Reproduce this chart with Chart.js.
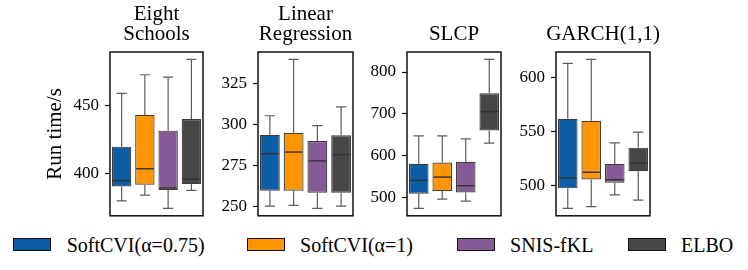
<!DOCTYPE html>
<html><head><meta charset="utf-8">
<script src="https://cdn.jsdelivr.net/npm/chart.js@4.4.1/dist/chart.umd.min.js"></script>
<style>
html,body{margin:0;padding:0;background:#fff;}
#wrap{position:relative;width:748px;height:270px;overflow:hidden;font-family:'Liberation Serif',serif;}
canvas{position:absolute;top:0;}
.sw{position:absolute;top:237.5px;width:38px;height:13.5px;box-sizing:border-box;border:1.5px solid #111;}
.lt{position:absolute;top:235px;font-family:'Liberation Serif',serif;font-size:20px;line-height:20px;color:#000;white-space:nowrap;}
</style></head><body><div id="wrap"></div>
<script>
// ---------------- data ----------------
const seriesNames = ['SoftCVI(\u03B1=0.75)', 'SoftCVI(\u03B1=1)', 'SNIS-fKL', 'ELBO'];
const seriesColors = ['#0C5DA5', '#FF9500', '#845B97', '#474747'];
const panelTitles = [['Eight', 'Schools'], ['Linear', 'Regression'], 'SLCP', 'GARCH(1,1)'];
const yAxisLabel = 'Run time/s';
// five-number summaries per series: [lower whisker, Q1, median, Q3, upper whisker]
const eightSchools     = [[380.0, 390.7, 395.0, 420.0, 459.3], [384.3, 391.9, 403.7, 443.4, 473.0], [374.5, 388.0, 389.5, 431.8, 471.3], [387.7, 392.4, 396.0, 440.4, 484.3]];
const linearRegression = [[250.0, 259.4, 282.0, 293.6, 305.2], [250.4, 259.4, 283.0, 294.8, 339.6], [248.6, 258.1, 277.6, 289.8, 299.2], [250.0, 258.1, 281.4, 293.2, 310.6]];
const slcp             = [[474.6, 509.5, 541.3, 581.0, 647.6], [496.8, 515.9, 549.2, 584.0, 647.6], [492.0, 512.7, 528.6, 585.7, 640.5], [630.2, 660.3, 705.5, 749.3, 830.0]];
const garch            = [[478.4, 497.0, 506.8, 561.8, 613.3], [480.0, 505.3, 512.0, 559.9, 617.0], [491.0, 502.2, 505.0, 519.8, 539.3], [486.1, 513.0, 520.7, 534.9, 549.4]];
const ticksEightSchools = [400, 450];
const ticksLinearRegression = [250, 275, 300, 325];
const ticksSlcp = [500, 600, 700, 800];
const ticksGarch = [500, 550, 600];

// ---------------- layout (styles only) ----------------
const panelStats = [eightSchools, linearRegression, slcp, garch];
const panelTicks = [ticksEightSchools, ticksLinearRegression, ticksSlcp, ticksGarch];
const panelLeft = [110, 258, 407, 555.5];
const panelWidth = [93, 95, 94, 94];
const legendLeft = [13.3, 246.7, 456.7, 627.7];
const FONT = "'Liberation Serif', serif";

const wrap = document.getElementById('wrap');

const boxWhiskers = {
  id: 'boxWhiskers',
  afterDatasetsDraw(chart, args, opts) {
    const ctx = chart.ctx, ys = chart.scales.y;
    const meta = chart.getDatasetMeta(0);
    const p = v => ys.getPixelForValue(v);
    ctx.save();
    meta.data.forEach((bar, i) => {
      const [lo, q1, med, q3, hi] = opts.stats[i];
      const x = bar.x, hw = bar.width / 2, cw = hw * 0.52;
      ctx.strokeStyle = '#5c5c5c'; ctx.lineWidth = 1.2;
      ctx.beginPath();
      ctx.moveTo(x, p(q3)); ctx.lineTo(x, p(hi));
      ctx.moveTo(x - cw, p(hi)); ctx.lineTo(x + cw, p(hi));
      ctx.moveTo(x, p(q1)); ctx.lineTo(x, p(lo));
      ctx.moveTo(x - cw, p(lo)); ctx.lineTo(x + cw, p(lo));
      ctx.stroke();
      ctx.strokeStyle = '#333333'; ctx.lineWidth = 1.4;
      ctx.beginPath();
      ctx.moveTo(x - hw + 1, p(med)); ctx.lineTo(x + hw - 1, p(med));
      ctx.stroke();
    });
    ctx.restore();
  }
};
const frame = {
  id: 'frame',
  afterDraw(chart) {
    const a = chart.chartArea, ctx = chart.ctx;
    ctx.save();
    ctx.strokeStyle = '#111'; ctx.lineWidth = 1.5;
    ctx.strokeRect(a.left, a.top, a.right - a.left, a.bottom - a.top);
    ctx.restore();
  }
};

panelStats.forEach((stats, k) => {
  const axisW = k === 0 ? 110 : 50;
  const cv = document.createElement('canvas');
  // canvas symmetric around the panel so the full-width title is centred over it
  const W = axisW + panelWidth[k] + axisW, H = 232;
  cv.width = W; cv.height = H;
  cv.style.left = (panelLeft[k] - axisW) + 'px';
  cv.style.width = W + 'px'; cv.style.height = H + 'px';
  wrap.appendChild(cv);
  const all = stats.flat();
  const dmin = Math.min(...all), dmax = Math.max(...all), m = (dmax - dmin) * 0.05;
  const twoLine = Array.isArray(panelTitles[k]);
  new Chart(cv, {
    type: 'bar',
    data: {
      labels: seriesNames,
      datasets: [{
        data: stats.map(s => [s[1], s[3]]),
        yAxisID: 'y',
        backgroundColor: seriesColors,
        borderColor: '#3d3d3d',
        borderWidth: 1.2,
        borderSkipped: false,
        barPercentage: 0.835,
        categoryPercentage: 1
      }]
    },
    options: {
      responsive: false,
      animation: false,
      devicePixelRatio: 1,
      layout: { padding: { top: 0, right: 0, bottom: 15, left: 0 } },
      plugins: {
        legend: { display: false },
        tooltip: { enabled: false },
        title: {
          display: true, fullSize: true,
          text: panelTitles[k],
          color: '#000',
          font: { family: FONT, size: 21, lineHeight: 20 / 21, weight: 'normal' },
          padding: { top: twoLine ? 4.6 : 24.6, bottom: 7.4 }
        },
        boxWhiskers: { stats: stats }
      },
      scales: {
        x: { display: false },
        y: {
          position: 'left',
          min: dmin - m, max: dmax + m,
          afterFit(s) { s.width = axisW; },
          afterBuildTicks(s) { s.ticks = panelTicks[k].map(v => ({ value: v })); },
          grid: { drawOnChartArea: false, drawTicks: true, tickLength: 5, tickColor: '#111', tickWidth: 1.2 },
          border: { display: false },
          ticks: { color: '#000', padding: 6, font: { family: FONT, size: 17, lineHeight: 1.2 } },
          title: {
            display: k === 0, text: yAxisLabel, color: '#000',
            font: { family: FONT, size: 21, lineHeight: 1 },
            padding: { top: 44.5, bottom: 0 }
          }
        },
        yRight: {
          position: 'right',
          min: dmin - m, max: dmax + m,
          afterFit(s) { s.width = axisW; },
          ticks: { display: false },
          grid: { display: false },
          border: { display: false }
        }
      }
    },
    plugins: [boxWhiskers, frame]
  });
});

seriesNames.forEach((name, i) => {
  const sw = document.createElement('div');
  sw.className = 'sw';
  sw.style.left = legendLeft[i] + 'px';
  sw.style.background = seriesColors[i];
  wrap.appendChild(sw);
  const t = document.createElement('div');
  t.className = 'lt';
  t.style.left = (legendLeft[i] + 53.4) + 'px';
  t.textContent = name;
  wrap.appendChild(t);
});
</script></body></html>
